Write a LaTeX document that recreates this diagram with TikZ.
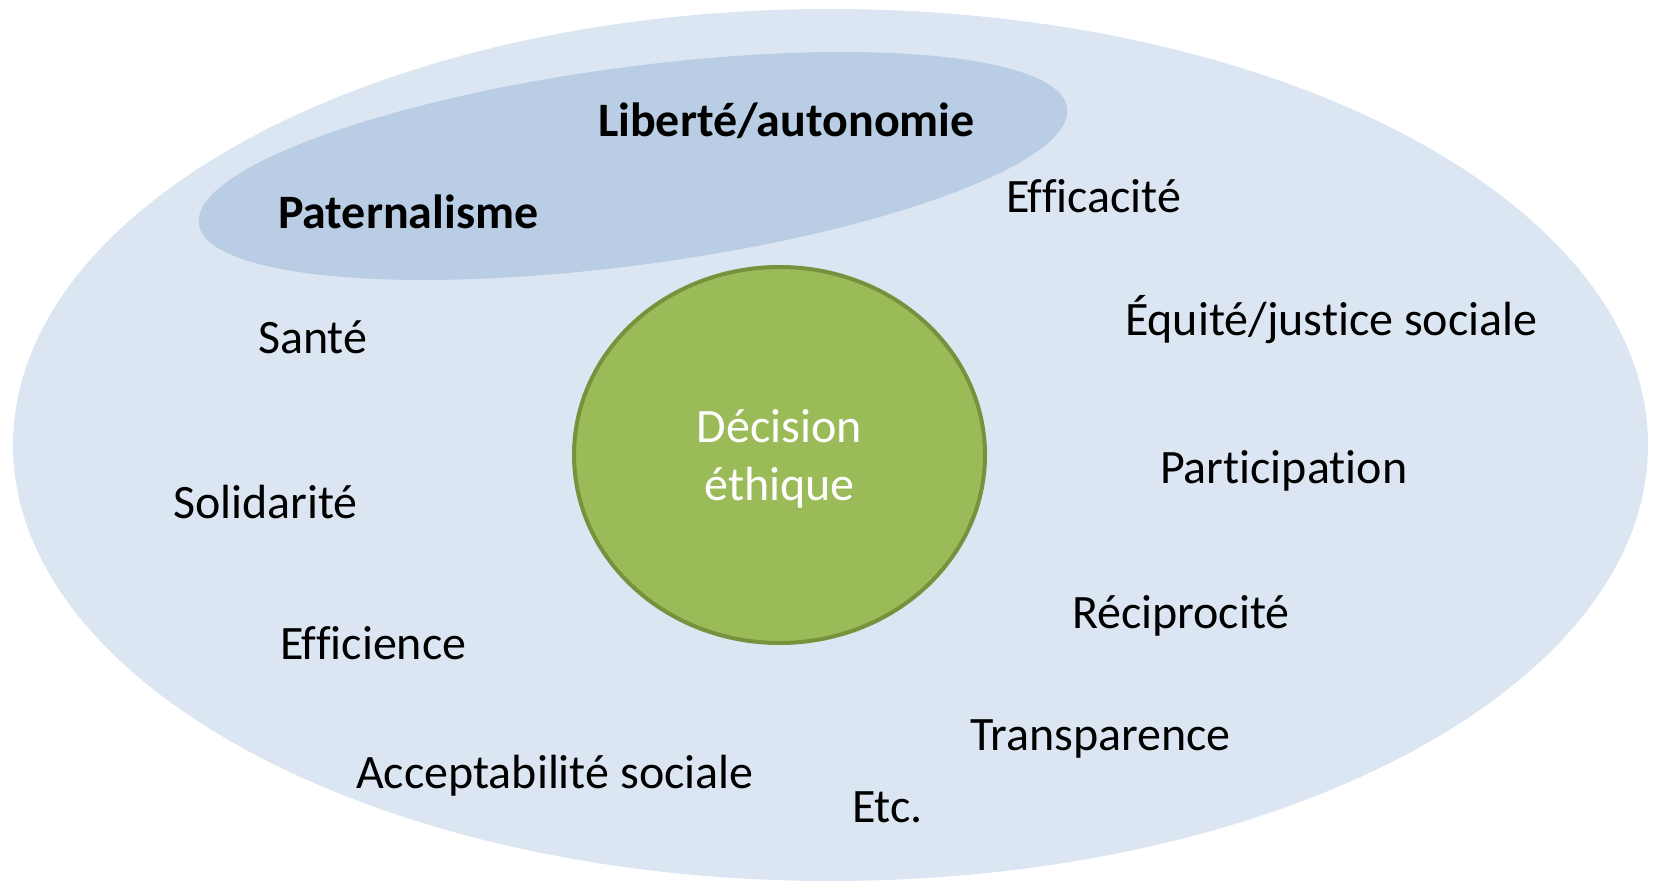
\documentclass[tikz,border=0pt]{standalone}
\usepackage{fontspec}
\setmainfont{Carlito}[Ligatures=NoCommon]
\usetikzlibrary{shapes.geometric}
\definecolor{outerblue}{HTML}{DCE6F2}
\definecolor{innerblue}{HTML}{B9CDE5}
\definecolor{greenfill}{HTML}{9BBB59}
\definecolor{greenline}{HTML}{76923C}
\tikzset{
  lbl/.style={anchor=base west, inner sep=0pt, outer sep=0pt, font=\fontsize{48}{58}\selectfont, text=black},
  boldlbl/.style={lbl, font=\fontsize{48}{58}\selectfont\bfseries},
  blob/.style={ellipse, inner sep=0pt, outer sep=0pt}
}
\begin{document}
\begin{tikzpicture}[x=1pt, y=-1pt]
\useasboundingbox (0,0) rectangle (1653,882);
\node[blob, fill=outerblue, minimum width=1635, minimum height=872] (outer) at (830.5,445) {};
\node[blob, fill=innerblue, minimum width=876, minimum height=198, rotate=7.6] (inner) at (633,166) {};
\node[blob, fill=greenfill, draw=greenline, line width=4pt, minimum width=411, minimum height=376] (dec) at (779.5,455) {};
\node[text=white, align=center, inner sep=0pt, font=\fontsize{48}{58}\selectfont, yshift=-4pt] (dectext) at (dec.center) {Décision\\éthique};
\node[boldlbl] (lib) at (598,137) {Liberté/autonomie};
\node[boldlbl] (pat) at (278,229) {Paternalisme};
\node[lbl] (effa) at (1006,213) {Efficacité};
\node[lbl] (equ) at (1125,335) {Équité/justice sociale};
\node[lbl] (part) at (1160,483) {Participation};
\node[lbl] (rec) at (1072,628) {Réciprocité};
\node[lbl] (tra) at (970,750) {Transparence};
\node[lbl] (etc) at (852,822) {Etc.};
\node[lbl] (acc) at (356,788) {Acceptabilité sociale};
\node[lbl] (eff) at (280,659) {Efficience};
\node[lbl] (sol) at (173,518) {Solidarité};
\node[lbl] (san) at (258,353) {Santé};
\end{tikzpicture}
\end{document}
